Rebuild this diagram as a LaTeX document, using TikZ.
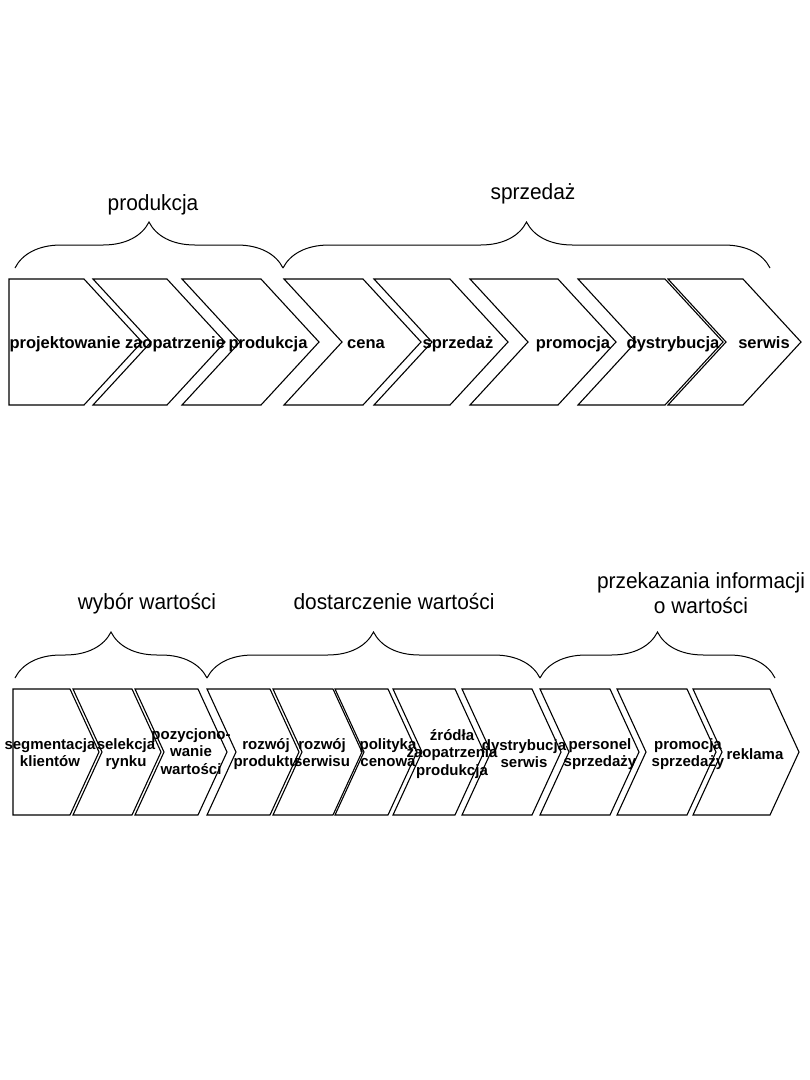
\documentclass[tikz,border=0pt]{standalone}
\usepackage{fontspec}
\setmainfont{Liberation Sans}
\newfontfamily\hdrfont[FakeStretch=0.95]{Liberation Sans}
\usetikzlibrary{decorations.pathreplacing}

\tikzset{
  chev/.style={draw=black, line width=1.1pt, line join=miter},
  lbltop/.style={font=\bfseries\fontsize{16.5}{18}\selectfont, inner sep=0pt, anchor=base},
  lblbot/.style={font=\bfseries\fontsize{15}{17.5}\selectfont, align=center, inner sep=0pt,
    anchor=north, execute at begin node=\strut},
  hdr/.style={font=\hdrfont\fontsize{22}{25}\selectfont, align=center, inner sep=0pt,
    anchor=north, execute at begin node=\strut},
  curly/.style={draw=black, line width=1pt, decorate, decoration={brace, amplitude=46pt}},
}

\def\ttop{279}\def\tbot{405}\def\tmid{342}\def\tdep{58}
\def\btop{689}\def\bbot{815}\def\bmid{752}\def\bdep{29}

\begin{document}
\begin{tikzpicture}[x=1pt, y=-1pt]
\useasboundingbox (0,0) rectangle (810,1080);

% ---- Top row: chevrons ----
\draw[chev] (9,\ttop) -- (84,\ttop) -- (84+\tdep,\tmid) -- (84,\tbot) -- (9,\tbot) -- cycle;
\foreach \xl/\xr in {93/167, 182/261, 284/363, 374/450, 470/558, 578/665, 668/743}
  \draw[chev] (\xl,\ttop) -- (\xr,\ttop) -- (\xr+\tdep,\tmid) -- (\xr,\tbot)
    -- (\xl,\tbot) -- (\xl+\tdep,\tmid) -- cycle;

% labels (on baseline)
\foreach \nm/\x/\txt in {t1/65/projektowanie, t2/175/zaopatrzenie, t3/268/produkcja,
    t4/366/cena, t5/458/sprzedaż, t6/573/promocja, t7/673/dystrybucja, t8/764/serwis}
  \node[lbltop] (\nm) at (\x,348) {\txt};

% braces and headers
\coordinate (p0) at (15,268);
\coordinate (p1) at (283,268);
\coordinate (p2) at (770,268);
\draw[curly] (p0) -- (p1);
\draw[curly] (p1) -- (p2);
\node[hdr] (h1) at (153,192.5) {produkcja};
\node[hdr] (h2) at (533,181.5) {sprzedaż};

% ---- Bottom row: chevrons ----
\draw[chev] (13,\btop) -- (70,\btop) -- (70+\bdep,\bmid) -- (70,\bbot) -- (13,\bbot) -- cycle;
\foreach \xl/\xr in {73/132, 135/198, 207/270, 273/333, 335/388, 393/455,
    462/532, 540/610, 617/687, 693/770}
  \draw[chev] (\xl,\btop) -- (\xr,\btop) -- (\xr+\bdep,\bmid) -- (\xr,\bbot)
    -- (\xl,\bbot) -- (\xl+\bdep,\bmid) -- cycle;

% labels (y = top of first line)
\foreach \nm/\x/\y/\txt in {b1/50/738/{segmentacja\\klientów}, b2/126/738/{selekcja\\rynku},
    b3/191/728/{pozycjono-\\wanie\\wartości}, b4/266/738/{rozwój\\produktu},
    b5/322/738/{rozwój\\serwisu}, b6/388/738/{polityka\\cenowa},
    b7/452/729/{źródła\\zaopatrzenia\\produkcja}, b8/524/739/{dystrybucja\\serwis},
    b9/600/738/{personel\\sprzedaży}, b10/688/738/{promocja\\sprzedaży}, b11/755/747/{reklama}}
  \node[lblbot] (\nm) at (\x,\y) {\txt};

% braces and headers
\coordinate (q0) at (15,678);
\coordinate (q1) at (207,678);
\coordinate (q2) at (540,678);
\coordinate (q3) at (775,678);
\draw[curly] (q0) -- (q1);
\draw[curly] (q1) -- (q2);
\draw[curly] (q2) -- (q3);
\node[hdr] (h3) at (147,591.5) {wybór wartości};
\node[hdr] (h4) at (394,591.5) {dostarczenie wartości};
\node[hdr] (h5) at (701,572) {przekazania informacji\\o wartości};

\end{tikzpicture}
\end{document}
